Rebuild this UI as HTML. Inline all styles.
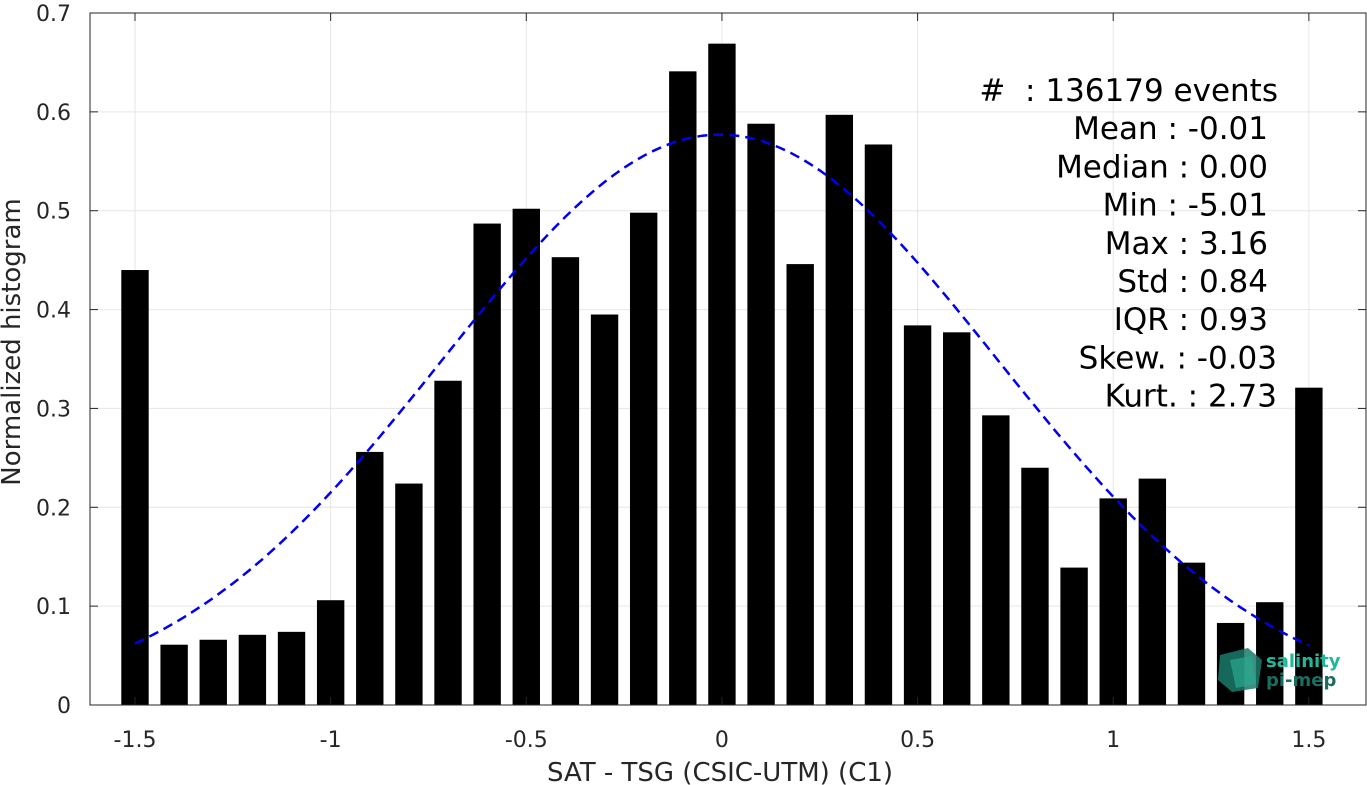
<!DOCTYPE html>
<html><head><meta charset="utf-8"><style>
html,body{margin:0;padding:0;background:#fff;}
svg{display:block;font-family:"DejaVu Sans","Liberation Sans",sans-serif;}
.pre{white-space:pre;}
</style></head><body>
<svg id="chart" width="1367" height="785" xmlns="http://www.w3.org/2000/svg"></svg>
<script>
const binCenters=[-1.5,-1.4,-1.3,-1.2,-1.1,-1.0,-0.9,-0.8,-0.7,-0.6,-0.5,-0.4,-0.3,-0.2,-0.1,0,0.1,0.2,0.3,0.4,0.5,0.6,0.7,0.8,0.9,1.0,1.1,1.2,1.3,1.4,1.5];
const binValues=[0.44,0.061,0.066,0.071,0.074,0.106,0.256,0.224,0.328,0.487,0.502,0.453,0.395,0.498,0.641,0.669,0.588,0.446,0.597,0.567,0.384,0.377,0.293,0.240,0.139,0.209,0.229,0.144,0.083,0.104,0.321];
const xTicks=[-1.5,-1,-0.5,0,0.5,1,1.5];
const xTickLabels=["-1.5","-1","-0.5","0","0.5","1","1.5"];
const yTicks=[0,0.1,0.2,0.3,0.4,0.5,0.6,0.7];
const yTickLabels=["0","0.1","0.2","0.3","0.4","0.5","0.6","0.7"];
const fitMean=-0.005, fitSigma=0.708, fitPeak=0.577;
const statLines=["#  : 136179 events","Mean : -0.01","Median : 0.00","Min : -5.01","Max : 3.16","Std : 0.84","IQR : 0.93","Skew. : -0.03","Kurt. : 2.73"];
const statRight=[1278,1268,1268,1268,1268,1268,1268,1277,1277];

const NS="http://www.w3.org/2000/svg";
const svg=document.getElementById('chart');
const L=90,R=1366,T=13,B=705;
const xMin=-1.615,xMax=1.646,yMin=0,yMax=0.7;
const xs=v=>L+(v-xMin)/(xMax-xMin)*(R-L);
const ys=v=>B-(v-yMin)/(yMax-yMin)*(B-T);
function mk(tag,attrs,parent){const e=document.createElementNS(NS,tag);for(const k in attrs)e.setAttribute(k,attrs[k]);(parent||svg).appendChild(e);return e;}

const grid=mk('g',{});


xTicks.forEach(t=>mk('line',{x1:xs(t),x2:xs(t),y1:T,y2:B,stroke:'#e6e6e6','stroke-width':1},grid));
yTicks.forEach(t=>mk('line',{x1:L,x2:R,y1:ys(t),y2:ys(t),stroke:'#e6e6e6','stroke-width':1},grid));

const bars=mk('g',{});


const bw=0.07*(R-L)/(xMax-xMin);
binCenters.forEach((c,i)=>{
  const r=mk('rect',{x:xs(c)-bw/2,y:ys(binValues[i]),width:bw,height:B-ys(binValues[i]),fill:'#000'},bars);
  
  
});

let d='';
for(let i=0;i<=120;i++){const x=-1.5+3*i/120;const y=fitPeak*Math.exp(-((x-fitMean)**2)/(2*fitSigma*fitSigma));d+=(i?'L':'M')+xs(x).toFixed(1)+','+ys(y).toFixed(1);}
const curve=mk('path',{d:d,fill:'none',stroke:'#0000ee','stroke-width':2.5,'stroke-dasharray':'10,6'});



const box=mk('rect',{x:L,y:T,width:R-L,height:B-T,fill:'none',stroke:'#262626','stroke-width':1});



xTicks.forEach((t,i)=>{
  mk('line',{x1:xs(t),x2:xs(t),y1:B,y2:B-8,stroke:'#262626'});
  mk('line',{x1:xs(t),x2:xs(t),y1:T,y2:T+8,stroke:'#262626'});
  const tx=mk('text',{x:xs(t),y:B+42,'text-anchor':'middle','font-size':22,fill:'#262626'});
  tx.textContent=xTickLabels[i];
  
  
});
yTicks.forEach((t,i)=>{
  mk('line',{x1:L,x2:L+8,y1:ys(t),y2:ys(t),stroke:'#262626'});
  mk('line',{x1:R,x2:R-8,y1:ys(t),y2:ys(t),stroke:'#262626'});
  const tx=mk('text',{x:L-19,y:ys(t)+8,'text-anchor':'end','font-size':22,fill:'#262626'});
  tx.textContent=yTickLabels[i];
  
  
});

const xl=mk('text',{x:720,y:781,'text-anchor':'middle','font-size':26,fill:'#262626'});
xl.textContent='SAT - TSG (CSIC-UTM) (C1)';


const yl=mk('text',{x:0,y:0,'text-anchor':'middle','font-size':26,fill:'#262626',transform:'translate(20,342) rotate(-90)'});
yl.textContent='Normalized histogram';



statLines.forEach((s,i)=>{
  const tx=mk('text',{x:statRight[i],y:101+i*38.2,'text-anchor':'end','font-size':31,fill:'#000','class':'pre'});
  tx.textContent=s;
  
  
});

const logo=mk('g',{});


mk('polygon',{points:'1220,655 1248,648 1262,660 1258,688 1232,692 1218,680',fill:'#1a7a6a',opacity:0.85},logo);
mk('polygon',{points:'1230,660 1252,656 1256,684 1236,688',fill:'#2aa88f',opacity:0.7},logo);
const l1=mk('text',{x:1266,y:667,'font-size':18,'font-weight':'bold',fill:'#20b89a'},logo);l1.textContent='salinity';
const l2=mk('text',{x:1266,y:686,'font-size':18,'font-weight':'bold',fill:'#1a6e60'},logo);l2.textContent='pi-mep';
</script>
</body></html>
